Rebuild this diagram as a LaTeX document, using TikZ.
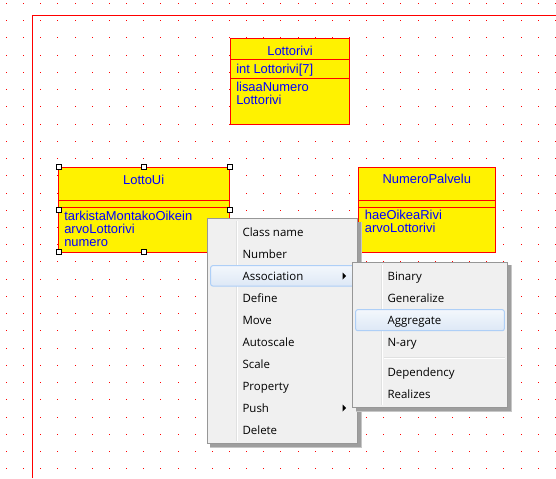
\documentclass[tikz,border=0pt]{standalone}
\usepackage{fontspec}
\setmainfont{Liberation Sans}
\newfontfamily\menufont{Open Sans}
\definecolor{menubg}{RGB}{240,240,240}
\definecolor{menuline}{RGB}{151,151,151}
\definecolor{gutter}{RGB}{224,225,225}
\definecolor{hiline}{RGB}{174,207,247}
\definecolor{hitop}{RGB}{243,247,252}
\definecolor{hibot}{RGB}{221,232,246}

\begin{document}
\begin{tikzpicture}[line join=miter,x=0.75pt,y=-0.75pt,
  classname/.style={text=blue,font=\fontsize{9.7}{11}\selectfont,inner sep=0,anchor=base},
  member/.style={classname,anchor=base west},
  handle/.style={draw=black,fill=white,line width=0.75pt,inner sep=0,minimum size=3.6pt},
  item/.style={font=\menufont\fontsize{8.6}{10}\selectfont,inner sep=0,anchor=base west},
  hilite/.style={draw=hiline,top color=hitop,bottom color=hibot,rounded corners=1.5pt,line width=0.75pt}]
\useasboundingbox (0,0) rectangle (556,478);
\fill[white] (0,0) rectangle (556,478);
% grid
\foreach \i in {0,...,32}
  \foreach \j in {0,...,27}
    \fill[red] (6+17.15*\i,3+17.23*\j) rectangle +(1,1);
\draw[red,line width=0.9pt] (32.5,478) -- (32.5,15.5) -- (556,15.5);
% Lottorivi
\fill[yellow, draw=red, line width=0.75pt] (230.7,38.3) rectangle (349.3,124.3);
\draw[red, line width=0.75pt] (230.7,59.3) -- (349.3,59.3);
\draw[red, line width=0.75pt] (230.7,78.3) -- (349.3,78.3);
\draw (290,55.3) node[classname] (lottorivi) {Lottorivi};
\draw (236,73.3) node[member] (lottoriviattr) {int Lottorivi[7]};
\draw (236,91) node[member] (lisaanumero) {lisaaNumero};
\draw (236,104) node[member] (lottorivimethod) {Lottorivi};
% LottoUi
\fill[yellow, draw=red, line width=0.75pt] (58.7,167) rectangle (229.7,252.3);
\draw[red, line width=0.75pt] (58.7,200.3) -- (229.7,200.3);
\draw[red, line width=0.75pt] (58.7,207.3) -- (229.7,207.3);
\draw (143.7,184.3) node[classname] (lottoui) {LottoUi};
\draw (64,220) node[member] (tarkista) {tarkistaMontakoOikein};
\draw (64,233) node[member] (arvoui) {arvoLottorivi};
\draw (64,246) node[member] (numero) {numero};
% NumeroPalvelu
\fill[yellow, draw=red, line width=0.75pt] (358.3,167.3) rectangle (495.7,252);
\draw[red, line width=0.75pt] (358.3,200.3) -- (495.7,200.3);
\draw[red, line width=0.75pt] (358.3,207.3) -- (495.7,207.3);
\draw (426.8,183.3) node[classname] (numeropalvelu) {NumeroPalvelu};
\draw (364.7,219.5) node[member] (haeoikea) {haeOikeaRivi};
\draw (364.7,232.7) node[member] (arvopalvelu) {arvoLottorivi};
% selection handles
\foreach \x/\y [count=\k] in {58.7/167,143.7/167,229.7/167,58.7/209.7,229.7/209.7,58.7/252.3,143.7/252.3}
  \node[handle] (handle\k) at (\x,\y) {};
% context menu
\fill[black!22] (210.3,221.7) rectangle (362.3,448.3);
\fill[black!38] (210.3,221.7) rectangle (360.8,446.8);
\fill[menubg, draw=menuline, line width=0.75pt] (207.3,218.7) rectangle (357.3,443.3);
\draw[gutter, line width=0.75pt] (236.7,221) -- (236.7,441);
\draw[white, line width=0.75pt] (237.7,221) -- (237.7,441);
\path[hilite] (210.7,265.7) rectangle (355,286);
\foreach \name [count=\n from 0] in {Class name,Number,Association,Define,Move,Autoscale,Scale,Property,Push,Delete}
  \node[item] (menu\n) at (242.3,236+22*\n) {\name};
\fill (342.5,272.5) -- (346.2,276) -- (342.5,279.5) -- cycle;
\fill (342.5,404.5) -- (346.2,408) -- (342.5,411.5) -- cycle;
% submenu
\fill[black!22] (355.7,265.3) rectangle (512,412.3);
\fill[black!38] (355.7,265.3) rectangle (510.5,410.8);
\fill[menubg, draw=menuline, line width=0.75pt] (352.7,262.3) rectangle (507,407.3);
\draw[gutter, line width=0.75pt] (381.7,264.5) -- (381.7,405);
\draw[white, line width=0.75pt] (382.7,264.5) -- (382.7,405);
\path[hilite] (355.7,309.7) rectangle (504.3,330.7);
\draw[gutter, line width=0.75pt] (383.7,357.3) -- (504.7,357.3);
\draw[white, line width=0.75pt] (383.7,358.3) -- (504.7,358.3);
\foreach \name/\y in {Binary/276,Generalize/298,Aggregate/320,N-ary/342,Dependency/372,Realizes/394}
  \node[item] (sub\name) at (387.3,\y+4) {\name};
\end{tikzpicture}
\end{document}
